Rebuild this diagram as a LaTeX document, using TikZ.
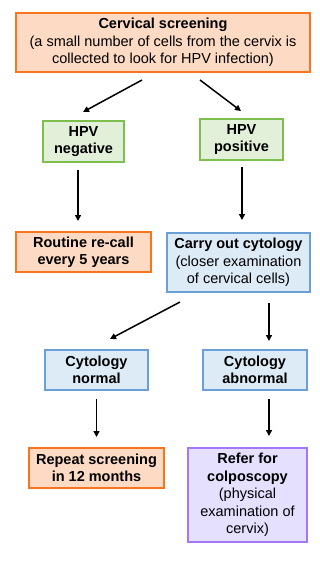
\documentclass[tikz,border=0pt]{standalone}
\usepackage{fontspec}
\setmainfont{Liberation Sans}
\usetikzlibrary{arrows.meta}
\definecolor{orBorder}{HTML}{F8741E}
\definecolor{orFill}{HTML}{FDDAC4}
\definecolor{grBorder}{HTML}{7DBE4E}
\definecolor{grFill}{HTML}{E2EFD9}
\definecolor{blBorder}{HTML}{6A9FD8}
\definecolor{blFill}{HTML}{DDEBF7}
\definecolor{puBorder}{HTML}{A377F8}
\definecolor{puFill}{HTML}{E6E0FF}
\tikzset{
  box/.style={draw, line width=2pt, rectangle, align=center, inner sep=0pt,
    font=\fontsize{14.5}{17.5}\selectfont},
  orbox/.style={box, draw=orBorder, fill=orFill},
  grbox/.style={box, draw=grBorder, fill=grFill},
  blbox/.style={box, draw=blBorder, fill=blFill},
  pubox/.style={box, draw=puBorder, fill=puFill},
  arr/.style={line width=1.5pt, -{Triangle[length=6pt,width=6pt]}}
}
\begin{document}
\begin{tikzpicture}[x=1pt,y=-1pt]
\useasboundingbox (0,0) rectangle (319,562);
\node[orbox, minimum width=294pt, minimum height=59pt] (screen) at (163,42.5)
  {\textbf{Cervical screening}\\(a small number of cells from the cervix is\\collected to look for HPV infection)};
\node[grbox, minimum width=81pt, minimum height=41pt] (neg) at (83.5,141.5)
  {\textbf{HPV}\\\textbf{negative}};
\node[grbox, minimum width=83pt, minimum height=41pt] (pos) at (241.5,139.5)
  {\textbf{HPV}\\\textbf{positive}};
\node[orbox, minimum width=135pt, minimum height=40pt] (routine) at (83.5,252)
  {\textbf{Routine re-call}\\\textbf{every 5 years}};
\node[blbox, minimum width=143pt, minimum height=59pt] (carry) at (238.5,262.5)
  {\textbf{Carry out cytology}\\(closer examination\\of cervical cells)};
\node[blbox, minimum width=103pt, minimum height=40pt] (cnorm) at (96.5,370)
  {\textbf{Cytology}\\\textbf{normal}};
\node[blbox, minimum width=104pt, minimum height=40pt] (cabn) at (255,370)
  {\textbf{Cytology}\\\textbf{abnormal}};
\node[orbox, minimum width=135pt, minimum height=40pt] (repeat) at (96.5,468)
  {\textbf{Repeat screening}\\\textbf{in 12 months}};
\node[pubox, minimum width=119pt, minimum height=94pt] (refer) at (247.5,495)
  {\textbf{Refer for}\\\textbf{colposcopy}\\(physical\\examination of\\cervix)};
% arrow end points
\coordinate (s1) at (142,80);
\coordinate (e1) at (83,112);
\coordinate (s2) at (200,80);
\coordinate (e2) at (241,111);
\coordinate (s3) at (180,302);
\coordinate (e3) at (110,339);
\draw[arr] (s1) -- (e1);
\draw[arr] (s2) -- (e2);
\draw[arr] (s3) -- (e3);
\draw[arr, shorten <=7pt, shorten >=10pt] ([xshift=-5.5pt]neg.south) -- ([xshift=-5.5pt]routine.north);
\draw[arr, shorten <=6pt, shorten >=12pt] ([xshift=0.5pt]pos.south) -- ([xshift=0.5pt]pos.south |- carry.north);
\draw[arr, shorten <=10pt, shorten >=8pt] ([xshift=14pt]carry.south -| cabn.center) -- ([xshift=14pt]cabn.north);
\draw[arr, shorten <=8pt, shorten >=10pt] (cnorm.south) -- (repeat.north);
\draw[arr, shorten <=8pt, shorten >=11pt] ([xshift=14pt]cabn.south) -- ([xshift=14pt]cabn.south |- refer.north);
\end{tikzpicture}
\end{document}
